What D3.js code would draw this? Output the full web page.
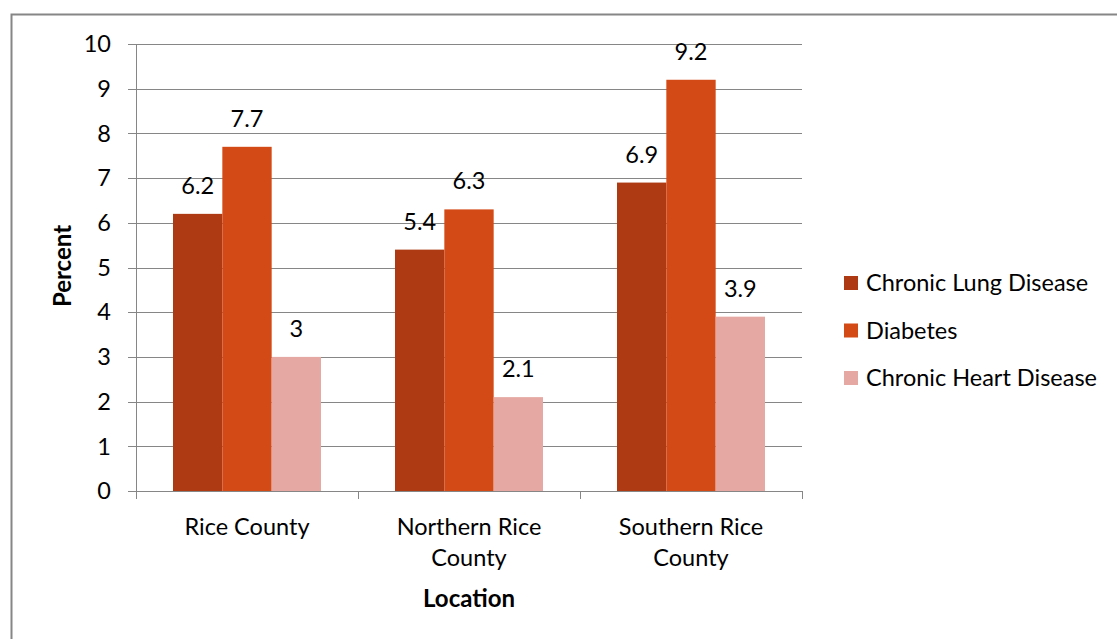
<!DOCTYPE html>
<html>
  <head>
    <meta charset="utf-8">
    <title>Chronic disease by location</title>
    <style>
      body { margin: 0; background: #fff; }
      text { font-family: Lato, "Open Sans", sans-serif; fill: #000; }
      .grid line { stroke: #868686; stroke-width: 1px; }
    </style>
  </head>
  <body>
    <script src="https://d3js.org/d3.v7.min.js"></script>
    <script>
      const locations = [["Rice County"], ["Northern Rice", "County"], ["Southern Rice", "County"]];
      const seriesNames = ["Chronic Lung Disease", "Diabetes", "Chronic Heart Disease"];
      const lungValues = [6.2, 5.4, 6.9];
      const diabetesValues = [7.7, 6.3, 9.2];
      const heartValues = [3, 2.1, 3.9];
      const yTicks = [0, 1, 2, 3, 4, 5, 6, 7, 8, 9, 10];
      const colors = ["#ad3a13", "#d34a17", "#e5a8a2"];

      const width = 1117, height = 639;
      const plotLeft = 136, plotRight = 802, plotTop = 44, plotBottom = 491;
      const fontSize = 23.5;

      const svg = d3.select("body").append("svg")
        .attr("width", width)
        .attr("height", height);

      // chart border (right and bottom edges run off the picture)
      svg.append("rect")
        .attr("x", 11.5).attr("y", 14.5)
        .attr("width", 1200).attr("height", 700)
        .attr("fill", "#fff")
        .attr("stroke", "#868686")
        .attr("stroke-width", 2);

      const x0 = d3.scaleBand()
        .domain(d3.range(locations.length))
        .range([plotLeft, plotRight]);

      const x1 = d3.scaleBand()
        .domain(d3.range(seriesNames.length))
        .range([0, x0.bandwidth()])
        .paddingOuter(0.75)
        .paddingInner(0);

      const y = d3.scaleLinear().domain([0, 10]).range([plotBottom, plotTop]);

      // gridlines + y ticks
      svg.append("g").attr("class", "grid")
        .selectAll("line")
        .data(yTicks)
        .join("line")
        .attr("x1", plotLeft - 8).attr("x2", plotRight)
        .attr("y1", d => Math.round(y(d)) + 0.5)
        .attr("y2", d => Math.round(y(d)) + 0.5);

      svg.append("g")
        .selectAll("text")
        .data(yTicks)
        .join("text")
        .attr("x", plotLeft - 25)
        .attr("y", d => y(d))
        .attr("dy", "0.35em")
        .attr("text-anchor", "end")
        .attr("font-size", fontSize)
        .text(d => d);

      // bars
      const values = [lungValues, diabetesValues, heartValues];
      const groups = svg.append("g")
        .selectAll("g")
        .data(locations.map((l, i) => values.map((s, j) => ({ i, j, v: s[i] }))))
        .join("g")
        .attr("transform", (d, i) => `translate(${x0(i)},0)`);

      groups.selectAll("rect")
        .data(d => d)
        .join("rect")
        .attr("x", d => x1(d.j))
        .attr("width", x1.bandwidth())
        .attr("y", d => y(d.v))
        .attr("height", d => y(0) - y(d.v))
        .attr("fill", d => colors[d.j]);

      groups.selectAll("text")
        .data(d => d)
        .join("text")
        .attr("x", d => x1(d.j) + x1.bandwidth() / 2)
        .attr("y", d => y(d.v) - 20)
        .attr("text-anchor", "middle")
        .attr("font-size", fontSize)
        .text(d => d.v);

      // axes lines
      const axisColor = "#868686";
      svg.append("line")
        .attr("x1", plotLeft + 0.5).attr("x2", plotLeft + 0.5)
        .attr("y1", plotTop).attr("y2", plotBottom + 8)
        .attr("stroke", axisColor);
      svg.append("line")
        .attr("x1", plotLeft - 8).attr("x2", plotRight)
        .attr("y1", plotBottom + 0.5).attr("y2", plotBottom + 0.5)
        .attr("stroke", axisColor);
      svg.append("g")
        .selectAll("line")
        .data(d3.range(locations.length + 1))
        .join("line")
        .attr("x1", d => Math.round(plotLeft + d * x0.bandwidth()) + 0.5)
        .attr("x2", d => Math.round(plotLeft + d * x0.bandwidth()) + 0.5)
        .attr("y1", plotBottom).attr("y2", plotBottom + 8)
        .attr("stroke", axisColor);

      // category labels
      svg.append("g")
        .selectAll("text")
        .data(locations)
        .join("text")
        .attr("x", (d, i) => x0(i) + x0.bandwidth() / 2)
        .attr("y", 535)
        .attr("text-anchor", "middle")
        .attr("font-size", fontSize)
        .selectAll("tspan")
        .data(d => d)
        .join("tspan")
        .attr("x", function () { return this.parentNode.getAttribute("x"); })
        .attr("dy", (d, k) => k === 0 ? 0 : 31)
        .text(d => d);

      // axis titles
      svg.append("text")
        .attr("x", 469).attr("y", 607)
        .attr("text-anchor", "middle")
        .attr("font-size", 24)
        .attr("font-weight", "bold")
        .text("Location");

      svg.append("text")
        .attr("transform", "translate(71,266) rotate(-90)")
        .attr("text-anchor", "middle")
        .attr("font-size", 24)
        .attr("font-weight", "bold")
        .text("Percent");

      // legend
      const legend = svg.append("g")
        .selectAll("g")
        .data(seriesNames)
        .join("g")
        .attr("transform", (d, i) => `translate(844,${276 + i * 47.5})`);
      legend.append("rect")
        .attr("width", 14).attr("height", 14)
        .attr("fill", (d, i) => colors[i]);
      legend.append("text")
        .attr("x", 22).attr("y", 7)
        .attr("dy", "0.35em")
        .attr("font-size", fontSize)
        .text(d => d);
    </script>
  </body>
</html>
